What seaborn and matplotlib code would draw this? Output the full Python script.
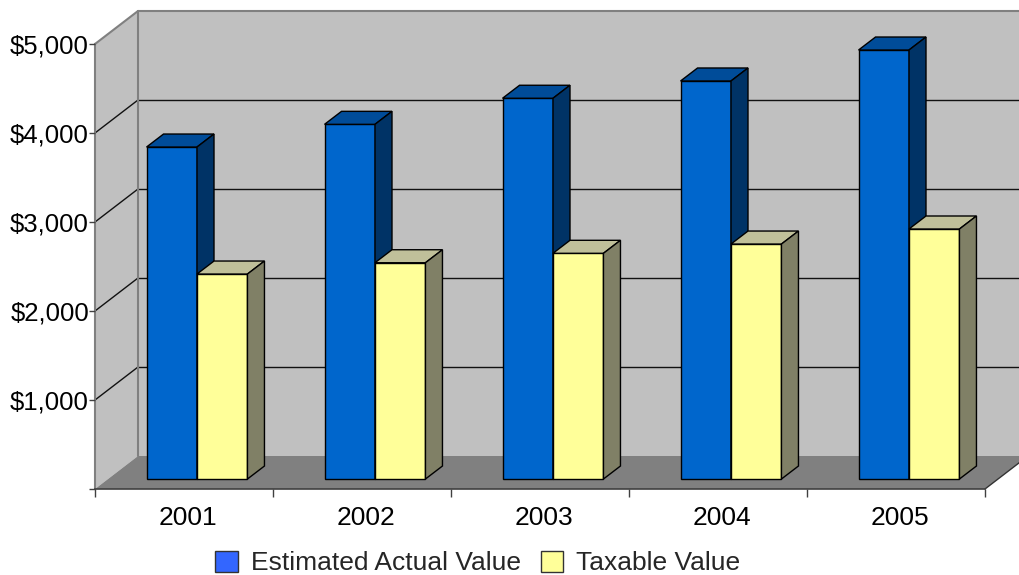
import numpy as np
import pandas as pd
import matplotlib
matplotlib.use("Agg")
import matplotlib.pyplot as plt
import seaborn as sns
from matplotlib.patches import Polygon, Patch
from matplotlib.transforms import Affine2D

# ---------------- data ----------------
years = ["2001", "2002", "2003", "2004", "2005"]
estimated_actual = [3730, 3985, 4278, 4472, 4820]
taxable = [2303, 2430, 2536, 2640, 2809]
series_names = ["Estimated Actual Value", "Taxable Value"]
y_ticks = [0, 1000, 2000, 3000, 4000, 5000]
y_tick_labels = ["", "$1,000", "$2,000", "$3,000", "$4,000", "$5,000"]

# ---------------- style ----------------
sns.set_theme(style="white")
plt.rcParams["font.family"] = ["Liberation Sans", "DejaVu Sans"]

FRONT = ["#0066CC", "#FFFF99"]
TOP = ["#004C99", "#C0C09A"]
SIDE = ["#003366", "#808066"]
LEGEND_COL = ["#3366FF", "#FFFF99"]
WALL = "#C0C0C0"
FLOOR = "#808080"
EDGE_GRAY = "#808080"
FS = 19

W, H = 1019, 575
fig = plt.figure(figsize=(W / 100, H / 100), dpi=100)
fig.patch.set_facecolor("white")

# front plane of the 3D box (pixels)
L, R, T, B = 95, 985, 44, 489
ax = fig.add_axes([L / W, 1 - B / H, (R - L) / W, (B - T) / H])
ax.patch.set_visible(False)

df = pd.DataFrame({
    "year": years * 2,
    "value": estimated_actual + taxable,
    "series": [series_names[0]] * len(years) + [series_names[1]] * len(years),
})
sns.barplot(data=df, x="year", y="value", hue="series", hue_order=series_names,
            palette=FRONT, width=0.567, saturation=1, edgecolor="black",
            linewidth=1, legend=False, errorbar=None, ax=ax)
ax.set_xlim(-0.5, len(years) - 0.5)
ax.set_ylim(0, 5000)
ax.set_xlabel("")
ax.set_ylabel("")

# pixel -> data scale
px_x = (ax.get_xlim()[1] - ax.get_xlim()[0]) / (R - L)
px_y = (ax.get_ylim()[1] - ax.get_ylim()[0]) / (B - T)

# depth offsets (pixels, up positive)
DEPTH = (43, 33)
BAR_START = (13, 10)
BAR_DEPTH = (17, 13)


def off(x, y, d):
    return (x + d[0] * px_x, y + d[1] * px_y)


x0, x1 = ax.get_xlim()
y0, y1 = ax.get_ylim()

# back wall
back = Polygon([off(x0, y0, DEPTH), off(x1 + 2, y0, DEPTH), off(x1 + 2, y1, DEPTH), off(x0, y1, DEPTH)],
               closed=True, facecolor=WALL, edgecolor="none", zorder=0.1, clip_on=False)
ax.add_patch(back)
# side wall
side = Polygon([(x0, y0), (x0, y1), off(x0, y1, DEPTH), off(x0, y0, DEPTH)],
               closed=True, facecolor=WALL, edgecolor="none", zorder=0.1, clip_on=False)
ax.add_patch(side)

# gridlines on walls
for v in y_ticks[1:-1]:
    bx0, by = off(x0, v, DEPTH)
    bx1, _ = off(x1 + 2, v, DEPTH)
    ax.plot([bx0, bx1], [by, by], color="#111111", lw=1, zorder=0.2, clip_on=False)
    ax.plot([x0, bx0], [v, by], color="#111111", lw=1, zorder=0.2, clip_on=False)
# wall outlines
bx0, by1 = off(x0, y1, DEPTH)
bx1, _ = off(x1 + 2, y1, DEPTH)
_, by0 = off(x0, y0, DEPTH)
ax.plot([bx0, bx1], [by1, by1], color=EDGE_GRAY, lw=1.5, zorder=0.25, clip_on=False)
ax.plot([bx0, bx0], [by0, by1], color=EDGE_GRAY, lw=1.5, zorder=0.25, clip_on=False)
ax.plot([x0, bx0], [y1, by1], color=EDGE_GRAY, lw=1.5, zorder=0.25, clip_on=False)

# floor
floor = Polygon([(x0, y0), (x1, y0), off(x1, y0, DEPTH), off(x0, y0, DEPTH)],
                closed=True, facecolor=FLOOR, edgecolor="none", zorder=0.3, clip_on=False)
ax.add_patch(floor)
fx, fy = off(x1, y0, DEPTH)
ax.plot([x1, fx], [y0, fy], color="#333333", lw=1, zorder=0.35, clip_on=False)

# 3D bars
shift = Affine2D().translate(BAR_START[0], BAR_START[1])
for k, cont in enumerate(ax.containers):
    z = 2 + k
    for rect in cont:
        bx = rect.get_x()
        bw = rect.get_width()
        bh = rect.get_height()
        rect.set_transform(ax.transData + shift)
        rect.set_zorder(z)
        rect.set_clip_on(False)
        fr = off(bx + bw, 0, BAR_START)
        tl = off(bx, bh, BAR_START)
        tr = off(bx + bw, bh, BAR_START)
        dd = BAR_DEPTH
        top = Polygon([tl, tr, off(tr[0], tr[1], dd), off(tl[0], tl[1], dd)], closed=True,
                      facecolor=TOP[k], edgecolor="black", lw=1, zorder=z, clip_on=False)
        sd = Polygon([fr, tr, off(tr[0], tr[1], dd), off(fr[0], fr[1], dd)], closed=True,
                     facecolor=SIDE[k], edgecolor="black", lw=1, zorder=z, clip_on=False)
        ax.add_patch(top)
        ax.add_patch(sd)

# axes
for s in ["top", "right"]:
    ax.spines[s].set_visible(False)
ax.spines["left"].set_color(EDGE_GRAY)
ax.spines["left"].set_linewidth(1.5)
ax.spines["left"].set_zorder(0.4)
ax.spines["bottom"].set_color("#404040")
ax.spines["bottom"].set_linewidth(1.2)
ax.spines["bottom"].set_zorder(0.4)

ax.set_yticks(y_ticks)
ax.set_yticklabels(y_tick_labels)
ax.tick_params(axis="y", left=True, length=4, width=1, color="#404040", pad=0.3,
               labelsize=18.5, labelcolor="black")

n = len(years)
ax.set_xticks([i - 0.5 for i in range(n + 1)])
ax.set_xticklabels([""] * (n + 1))
ax.set_xticks([i + 4 * px_x for i in range(n)], minor=True)
ax.set_xticklabels(years, minor=True)
ax.tick_params(axis="x", which="major", bottom=True, length=6, width=1, color="#404040")
ax.tick_params(axis="x", which="minor", bottom=True, length=0, pad=12, labelsize=FS,
               labelcolor="black")

# legend
handles = [Patch(facecolor=LEGEND_COL[i], edgecolor="#333333", lw=1, label=series_names[i])
           for i in range(2)]
fig.legend(handles=handles, loc="center", bbox_to_anchor=(478 / W, 1 - 563 / H),
           ncol=2, frameon=False, fontsize=FS, handlelength=0.85, handleheight=0.85,
           handletextpad=0.5, columnspacing=0.75, borderpad=0)

fig.savefig("out.png", dpi=100)
